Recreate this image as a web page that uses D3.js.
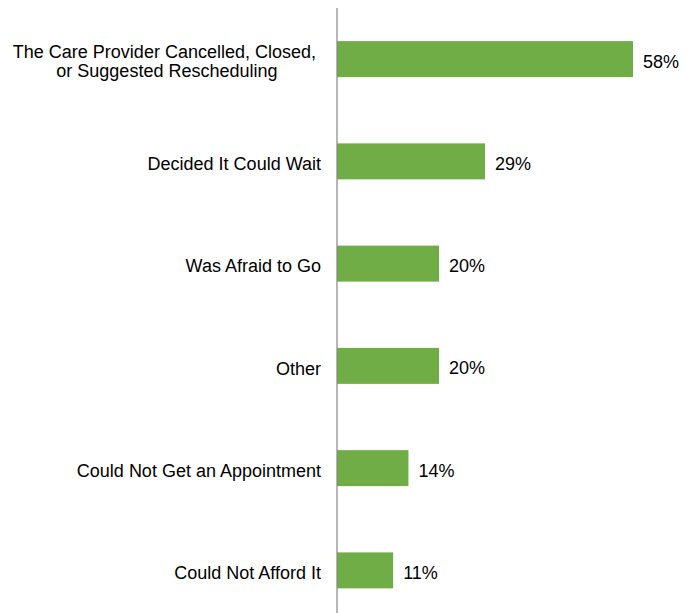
<!DOCTYPE html>
<html>
<head>
<meta charset="utf-8">
<script src="https://cdn.jsdelivr.net/npm/d3@7"></script>
<style>
  html, body { margin: 0; padding: 0; background: #fff; }
  svg { display: block; }
  text { font-family: "Liberation Sans", Arial, sans-serif; fill: #000; }
</style>
</head>
<body>
<svg id="chart" width="696" height="613"></svg>
<script>
// Reasons for missed care, share of respondents (%)
const reasons = [
  ["The Care Provider Cancelled, Closed,", "or Suggested Rescheduling"],
  ["Decided It Could Wait"],
  ["Was Afraid to Go"],
  ["Other"],
  ["Could Not Get an Appointment"],
  ["Could Not Afford It"]
];
const shares = [58, 29, 20, 20, 14, 11];

const svg = d3.select("#chart");
const axisX = 337;
const labelGap = 16;
const fontSize = 18;

const x = d3.scaleLinear().domain([0, 60]).range([axisX, axisX + 306.2]);
const y = d3.scaleBand()
  .domain(d3.range(reasons.length))
  .range([8, 621.5])
  .paddingInner(0.648)
  .paddingOuter(0.324);

// Bars
svg.append("g").selectAll("rect")
  .data(shares)
  .join("rect")
  .attr("x", x(0))
  .attr("y", (d, i) => y(i))
  .attr("width", d => x(d) - x(0))
  .attr("height", y.bandwidth())
  .attr("fill", "#70AD47");

// Category axis line
svg.append("line")
  .attr("x1", axisX).attr("x2", axisX)
  .attr("y1", 8).attr("y2", 613)
  .attr("stroke", "#868686")
  .attr("stroke-width", 1.2);

// Category labels: single lines right-aligned to the axis,
// wrapped labels centred as a block that ends at the axis
const labelG = svg.append("g").style("font-size", fontSize + "px");
const rightEdge = axisX - labelGap;
const spaceW = fontSize * 0.278;

reasons.forEach((lines, i) => {
  const cy = y(i) + y.bandwidth() / 2;
  const t = labelG.append("text");
  if (lines.length === 1) {
    t.attr("text-anchor", "end")
      .attr("x", rightEdge)
      .attr("y", cy + 8.7)
      .text(lines[0]);
    return;
  }
  const spans = t.selectAll("tspan")
    .data(lines)
    .join("tspan")
    .attr("y", (d, j) => cy - 1.3 + j * 19.3)
    .text(d => d);
  // every wrapped line but the last keeps its break space
  const widths = [];
  spans.each(function(d, j) {
    widths.push(this.getComputedTextLength() + (j < lines.length - 1 ? spaceW : 0));
  });
  const blockW = d3.max(widths);
  const centre = rightEdge - blockW / 2;
  spans.attr("x", (d, j) => centre - widths[j] / 2);
});

// Value labels
svg.append("g").selectAll("text")
  .data(shares)
  .join("text")
  .attr("x", d => x(d) + 10)
  .attr("y", (d, i) => y(i) + y.bandwidth() / 2 + 8.5)
  .style("font-size", fontSize + "px")
  .text(d => d + "%");
</script>
</body>
</html>
